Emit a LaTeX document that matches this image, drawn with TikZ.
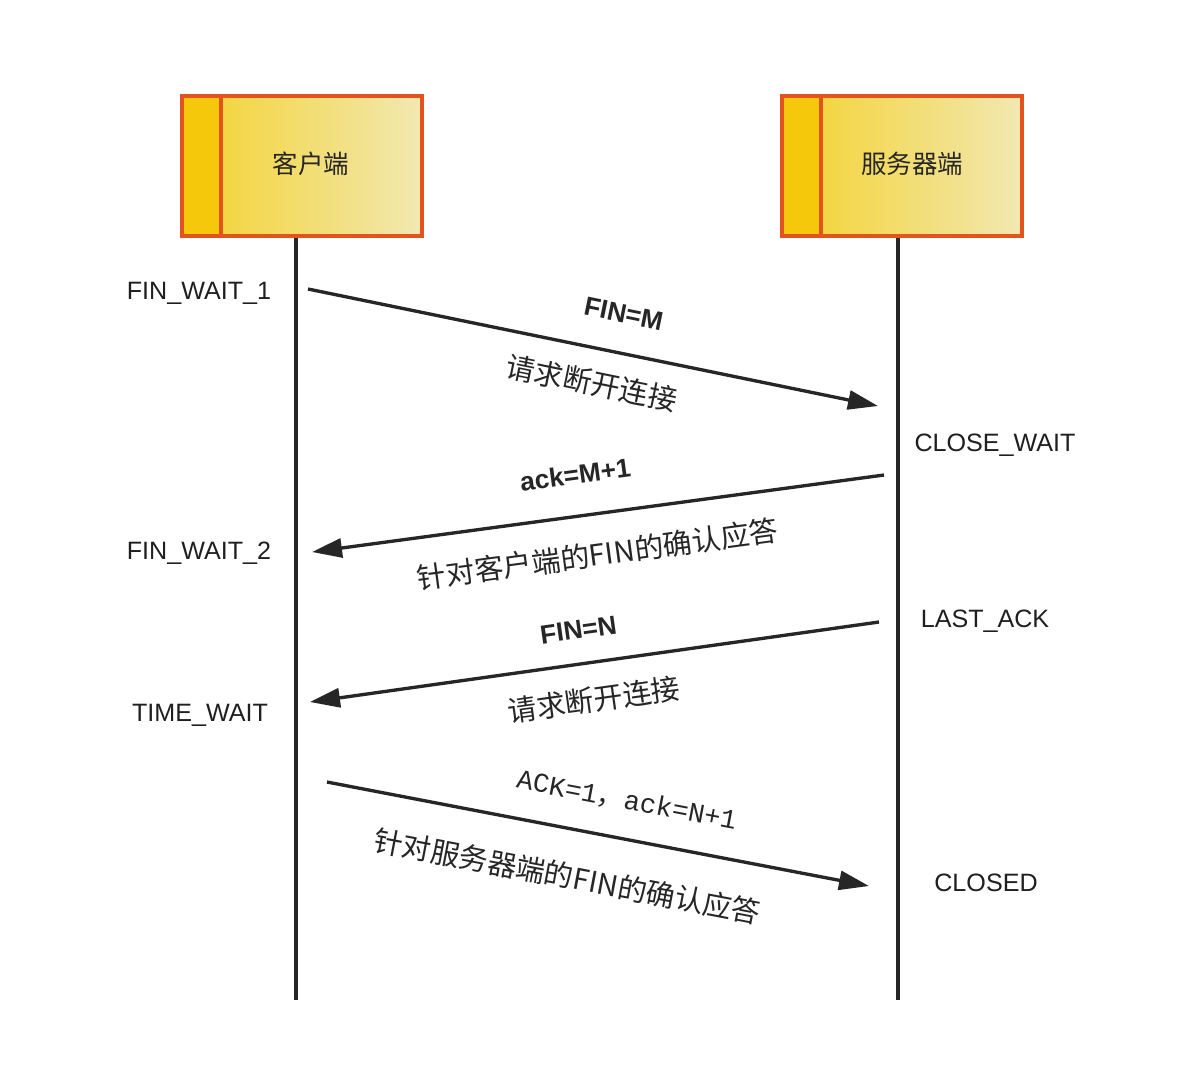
\documentclass[tikz,border=0pt]{standalone}
\usepackage{fontspec}
\setmainfont{Liberation Sans}
\newfontfamily\cjk{Noto Sans CJK SC}
\newfontfamily\monof{Liberation Mono}
\usetikzlibrary{arrows.meta}
\tikzset{>={Triangle[width=3.8mm,length=6mm]}}
\definecolor{boxEdge}{RGB}{228,82,30}
\definecolor{boxDark}{RGB}{245,200,12}
\definecolor{boxMid}{RGB}{243,210,44}
\definecolor{boxLight}{RGB}{242,232,178}
\definecolor{lineColor}{RGB}{38,38,38}

\begin{document}
\begin{tikzpicture}[
    x = 0.02cm, y = -0.02cm,
    box/.style = {draw=boxEdge, line width=2pt, minimum width=4.8cm,
        minimum height=2.8cm, inner sep=0pt, left color=boxMid, right color=boxLight,
        path picture={
          \fill[boxDark] (path picture bounding box.north west) rectangle
            ([xshift=0.78cm]path picture bounding box.south west);
          \draw[boxEdge, line width=2pt] ([xshift=0.78cm]path picture bounding box.north west)
            -- ([xshift=0.78cm]path picture bounding box.south west);}},
    boxtext/.style = {font=\fontsize{14.5}{16}\selectfont\cjk, text=black!85},
    life/.style = {line width=1.9pt, draw=lineColor},
    state/.style = {font=\fontsize{14.3}{16}\selectfont, text=black!88},
    msg/.style = {->, line width=1.9pt, draw=lineColor, fill=lineColor},
    flag/.style = {font=\fontsize{15}{17}\selectfont\bfseries, sloped, text=lineColor},
    note/.style = {font=\fontsize{16.5}{18}\selectfont\cjk, sloped, text=lineColor}
  ]
  \useasboundingbox[fill=white] (0,0) rectangle (1192,1066);

  % ends
  \node[box] (client) at (302,166) {};
  \node[box] (server) at (902,166) {};
  \node[boxtext] (clientText) at (311,164) {客户端};
  \node[boxtext] (serverText) at (912,164) {服务器端};

  % life lines
  \coordinate (clientEnd) at (296,1000);
  \coordinate (serverEnd) at (898,1000);
  \draw[life] (clientEnd |- client.south) -- (clientEnd);
  \draw[life] (serverEnd |- server.south) -- (serverEnd);

  % states
  \foreach \name/\x/\y/\txt in {fw1/199/293/FIN\_WAIT\_1, cw/995/445/CLOSE\_WAIT,
      fw2/199/553/FIN\_WAIT\_2, la/985/621/LAST\_ACK, tw/200/715/TIME\_WAIT, cl/986/883/CLOSED}
    \node[state] (\name) at (\x,\y) {\txt};

  % messages
  \coordinate (m1a) at (308,289);
  \coordinate (m1b) at (878,406);
  \coordinate (m2a) at (884,475);
  \coordinate (m2b) at (312,552);
  \coordinate (m3a) at (879,622);
  \coordinate (m3b) at (310,702);
  \coordinate (m4a) at (327,782);
  \coordinate (m4b) at (869,886);

  \draw[msg] (m1a) -- node[flag, pos=0.54, above=13pt] {FIN=M}
    node[note, pos=0.51, below=8pt] {请求断开连接} (m1b);
  \draw[msg] (m2a) -- node[flag, pos=0.53, above=14pt] {ack=M+1}
    node[note, pos=0.51, below=11pt] {针对客户端的FIN的确认应答} (m2b);
  \draw[msg] (m3a) -- node[flag, pos=0.52, above=10pt] {FIN=N}
    node[note, pos=0.51, below=9pt] {请求断开连接} (m3b);
  \draw[msg] (m4a) -- node[flag, pos=0.54, above=11pt, font=\fontsize{15.5}{17}\selectfont\monof] {ACK=1{\cjk ，}ack=N+1}
    node[note, pos=0.46, below=15pt] {针对服务器端的FIN的确认应答} (m4b);
\end{tikzpicture}
\end{document}
